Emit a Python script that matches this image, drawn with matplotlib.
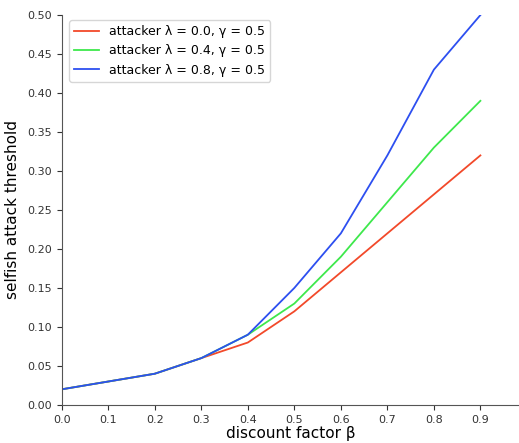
import matplotlib
matplotlib.use("Agg")
import matplotlib.pyplot as plt

beta = [0.0, 0.1, 0.2, 0.3, 0.4, 0.5, 0.6, 0.7, 0.8, 0.9]
red = [0.02, 0.03, 0.04, 0.06, 0.08, 0.12, 0.17, 0.22, 0.27, 0.32]
green = [0.02, 0.03, 0.04, 0.06, 0.09, 0.13, 0.19, 0.26, 0.33, 0.39]
blue = [0.02, 0.03, 0.04, 0.06, 0.09, 0.15, 0.22, 0.32, 0.43, 0.50]
labels = ["attacker λ = 0.0, γ = 0.5", "attacker λ = 0.4, γ = 0.5", "attacker λ = 0.8, γ = 0.5"]
colors = ["#f2492a", "#3ee84c", "#2d4ff0"]

fig = plt.figure(figsize=(5.19, 4.43), dpi=100)
ax = fig.add_axes([0.119, 0.086, 0.881, 0.880])
for ys, lab, c in zip([red, green, blue], labels, colors):
    ax.plot(beta, ys, color=c, lw=1.3, label=lab)

ax.set_xlim(0, 0.983)
ax.set_ylim(0, 0.5)
ax.set_xticks(beta)
ax.set_yticks([0.0, 0.05, 0.1, 0.15, 0.2, 0.25, 0.3, 0.35, 0.4, 0.45, 0.5])
ax.tick_params(labelsize=8, colors="#333333")
ax.spines["top"].set_visible(False)
ax.spines["right"].set_visible(False)
for s in ["left", "bottom"]:
    ax.spines[s].set_color("#555555")
ax.set_xlabel("discount factor β", fontsize=11, labelpad=1)
ax.set_ylabel("selfish attack threshold", fontsize=11, labelpad=5)
ax.legend(loc="upper left", fontsize=9, bbox_to_anchor=(0.003, 1.003), handlelength=2.0)
fig.savefig("out.png", dpi=100)
